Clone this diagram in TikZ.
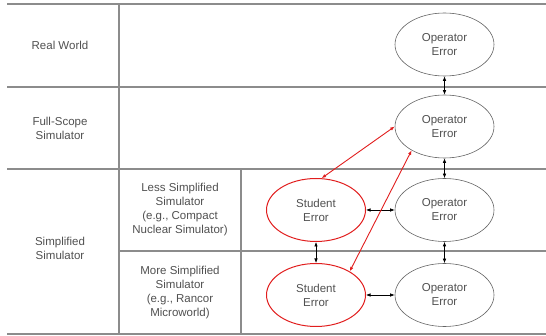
\documentclass[tikz,border=0pt]{standalone}
\usepackage{fontspec}
\setmainfont{Liberation Sans}
\usetikzlibrary{shapes}
\usetikzlibrary{arrows.meta}

\definecolor{gridgray}{RGB}{140,140,140}
\definecolor{textgray}{RGB}{80,80,80}
\definecolor{linegray}{RGB}{100,100,100}
\definecolor{errred}{RGB}{225,30,30}

\tikzset{
  label text/.style={text=textgray, align=center, font=\fontsize{11.5}{14}\selectfont},
  error/.style={ellipse, draw=linegray, line width=0.6pt, minimum width=99pt, minimum height=63pt, inner sep=0pt, label text},
  student/.style={error, draw=errred, line width=1pt},
  link/.style={{Latex[length=4.5pt,width=3.5pt]}-{Latex[length=4.5pt,width=3.5pt]}, black, line width=0.6pt},
  redlink/.style={link, errred, line width=0.9pt}
}

\begin{document}
\begin{tikzpicture}[x=1pt,y=1pt,yscale=-1]
    \useasboundingbox (0,0) rectangle (546,336);
    % table grid
    \draw [gridgray, line width=1.2pt] (7,4) -- (546,4);
    \draw [gridgray, line width=1.2pt] (7,87) -- (546,87);
    \draw [gridgray, line width=1.2pt] (7,169) -- (546,169);
    \draw [gridgray, line width=1.2pt] (119,251) -- (546,251);
    \draw [gridgray, line width=1.2pt] (7,334) -- (546,334);
    \draw [gridgray, line width=1.2pt] (119,4) -- (119,334);
    \draw [gridgray, line width=1.2pt] (241,169) -- (241,334);
    % row labels
    \node [label text] (real) at (60,45) {Real World};
    \node [label text] (full) at (60,128) {Full-Scope\\Simulator};
    \node [label text] (simp) at (60,248) {Simplified\\Simulator};
    \node [label text] (less) at (180,210) {Less Simplified\\Simulator\\(e.g., Compact\\Nuclear Simulator)};
    \node [label text] (more) at (180,293) {More Simplified\\Simulator\\(e.g., Rancor\\Microworld)};
    % error nodes
    \node [error] (opReal) at (444.5,44.5) {Operator\\Error};
    \node [error] (opFull) at (444.5,126.5) {Operator\\Error};
    \node [error] (opLess) at (444.5,210) {Operator\\Error};
    \node [error] (opMore) at (444.5,295) {Operator\\Error};
    \node [student] (stLess) at (316,210) {Student\\Error};
    \node [student] (stMore) at (316,295) {Student\\Error};
    % links
    \draw [link] (opReal) -- (opFull);
    \draw [link] (opFull) -- (opLess);
    \draw [link] (opLess) -- (opMore);
    \draw [link] (stLess) -- (stMore);
    \draw [link] (stLess) -- (opLess);
    \draw [link] (stMore) -- (opMore);
    \draw [redlink] (stLess.80) -- (opFull.west);
    \draw [redlink] (stMore.35) -- (opFull.216);
\end{tikzpicture}
\end{document}
